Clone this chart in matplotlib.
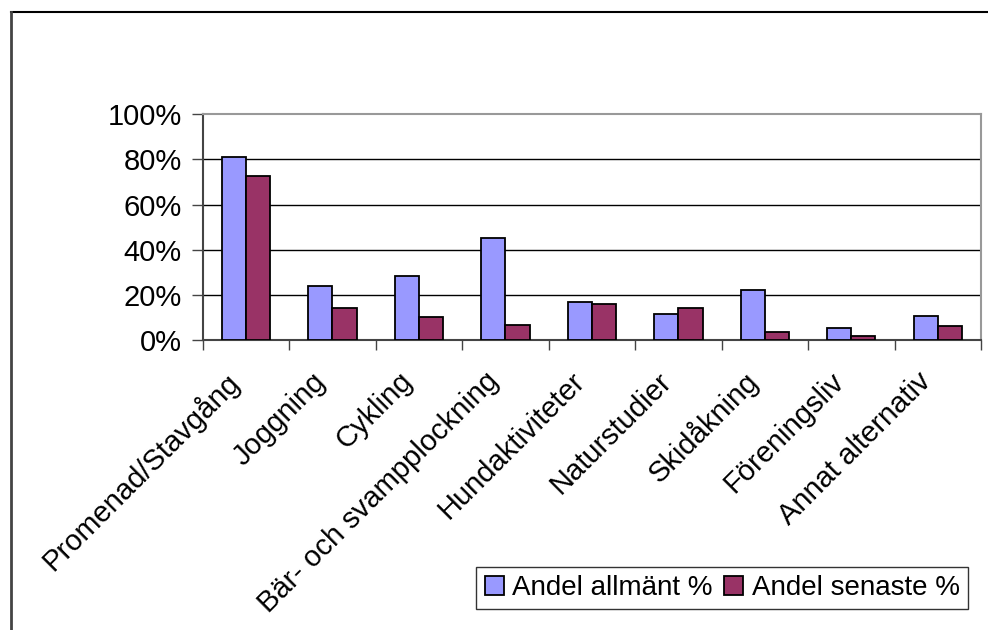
import numpy as np
import matplotlib
matplotlib.use('Agg')
import matplotlib.pyplot as plt
from matplotlib.lines import Line2D
from matplotlib.ticker import PercentFormatter

plt.rcParams['font.family'] = ['Liberation Sans', 'DejaVu Sans']

categories = ['Promenad/Stavgång', 'Joggning', 'Cykling', 'Bär- och svampplockning',
              'Hundaktiviteter', 'Naturstudier', 'Skidåkning', 'Föreningsliv', 'Annat alternativ']
allmant = [81.2, 23.8, 28.2, 45.2, 16.8, 11.4, 22.0, 5.2, 10.5]
senaste = [72.5, 14.0, 10.3, 6.8, 15.8, 14.0, 3.4, 1.6, 6.1]
series_names = ['Andel allmänt %', 'Andel senaste %']

W, H = 988, 630
fig = plt.figure(figsize=(W / 100, H / 100), dpi=100)
ax = fig.add_axes([202.7 / W, 1 - 340 / H, (981 - 202.7) / W, (340 - 114.3) / H])

x = np.arange(len(categories))
bw = 0.28
ax.bar(x - bw / 2, allmant, bw, color='#9999FF', edgecolor='black', linewidth=1.3,
       label=series_names[0], zorder=3)
ax.bar(x + bw / 2, senaste, bw, color='#993366', edgecolor='black', linewidth=1.3,
       label=series_names[1], zorder=3)

ax.set_xlim(-0.5, len(categories) - 0.5)
ax.set_ylim(0, 100)
ax.set_yticks([0, 20, 40, 60, 80, 100])
ax.yaxis.set_major_formatter(PercentFormatter(decimals=0))
for v in [20, 40, 60, 80]:
    ax.axhline(v, color='black', linewidth=1.0, zorder=1)

# category boundary ticks
ax.set_xticks(np.arange(len(categories) + 1) - 0.5)
ax.set_xticklabels([])
ax.tick_params(axis='x', length=7, width=1, color='#444444', direction='out')
ax.tick_params(axis='y', length=8, width=1, color='#444444', direction='out',
               labelsize=21, pad=7)

for i, c in enumerate(categories):
    ax.annotate(c, xy=(i, 0), xycoords=('data', 'axes fraction'),
                xytext=(-11, -37), textcoords='offset pixels',
                rotation=45, rotation_mode='anchor', ha='right', va='center',
                fontsize=21)

for s in ['left', 'bottom']:
    ax.spines[s].set_color('#444444')
    ax.spines[s].set_linewidth(1.5)
for s in ['top', 'right']:
    ax.spines[s].set_color('#999999')
    ax.spines[s].set_linewidth(1.5)

leg = fig.legend(loc='center', bbox_to_anchor=((472.7 + 971.7) / 2 / W, 1 - 588 / H),
                 ncol=2, fontsize=20, frameon=True, fancybox=False,
                 edgecolor='black', handlelength=0.7, handleheight=0.7,
                 handletextpad=0.3, columnspacing=0.4, borderpad=0.3,
                 borderaxespad=0)
leg.get_frame().set_linewidth(1.0)

# outer chart frame
fig.add_artist(Line2D([11 / W, 1], [1 - 12 / H, 1 - 12 / H], color='black', linewidth=1.5))
fig.add_artist(Line2D([11 / W, 11 / W], [0, 1 - 12 / H], color='#444444', linewidth=2))

fig.savefig('out.png', dpi=100)
